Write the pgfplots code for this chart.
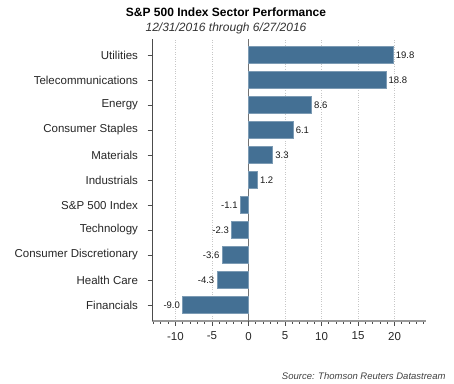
\documentclass[border=0pt]{standalone}
\usepackage{fontspec}
\setmainfont{Liberation Sans}
\usepackage{pgfplots}
\pgfplotsset{compat=1.18}
\definecolor{barblue}{RGB}{68,112,148}
\begin{document}
\begin{tikzpicture}[x=1pt,y=1pt]
\useasboundingbox (0,0) rectangle (454,383);
\node[font=\fontsize{12}{14}\selectfont\bfseries] at (226,371) {S\&P 500 Index Sector Performance};
\node[font=\fontsize{12}{14}\selectfont\itshape, text=black!80] at (226,355) {12/31/2016 through 6/27/2016};
\node[font=\fontsize{9.5}{11}\selectfont\itshape, text=black!75, anchor=east] at (449,7) {Source: Thomson Reuters Datastream};
\begin{axis}[
  at={(152pt,62pt)}, anchor=south west, scale only axis,
  width=274pt, height=282pt,
  xbar, bar width=17pt,
  xmin=-13.2, xmax=24.3, ymin=-0.64, ymax=10.64,
  ytick={0,...,10},
  yticklabels={Financials, Health Care, Consumer Discretionary, Technology, S\&P 500 Index, Industrials, Materials, Consumer Staples, Energy, Telecommunications, Utilities},
  xtick={-10,-5,0,5,10,15,20},
  minor xtick={-13,-12,...,24},
  /pgf/number format/assume math mode=true,
  tick label style={font=\fontsize{11.5}{13}\selectfont, text=black!85},
  axis x line*=bottom, axis y line*=left,
  x axis line style={-, draw=black!40, line width=1.6pt},
  y axis line style={-, draw=black!70, line width=1pt},
  tick align=outside,
  major tick length=4.5pt, minor tick length=2.5pt,
  every tick/.style={black!70, line width=0.8pt},
  every minor tick/.style={black!70, line width=0.8pt},
  xmajorgrids,
  major grid style={dotted, black!22, line width=0.6pt},
  extra x ticks={0},
  extra x tick labels={},
  extra x tick style={grid=major, major grid style={solid, black!55, line width=1.4pt}},
  y tick label style={xshift=-6pt},
  x tick label style={yshift=-3pt},
  nodes near coords,
  nodes near coords align={horizontal},
  nodes near coords style={font=\fontsize{9.5}{11}\selectfont, text=black!90, inner sep=2.5pt,
     /pgf/number format/.cd, fixed, fixed zerofill, precision=1, assume math mode=true},
  clip=false,
]
\addplot[fill=barblue, draw=barblue!70!white, line width=0.6pt] coordinates {
(-9.0,0) (-4.3,1) (-3.6,2) (-2.3,3) (-1.1,4) (1.2,5) (3.3,6) (6.1,7) (8.6,8) (18.8,9) (19.8,10)
};
\end{axis}
\end{tikzpicture}
\end{document}
